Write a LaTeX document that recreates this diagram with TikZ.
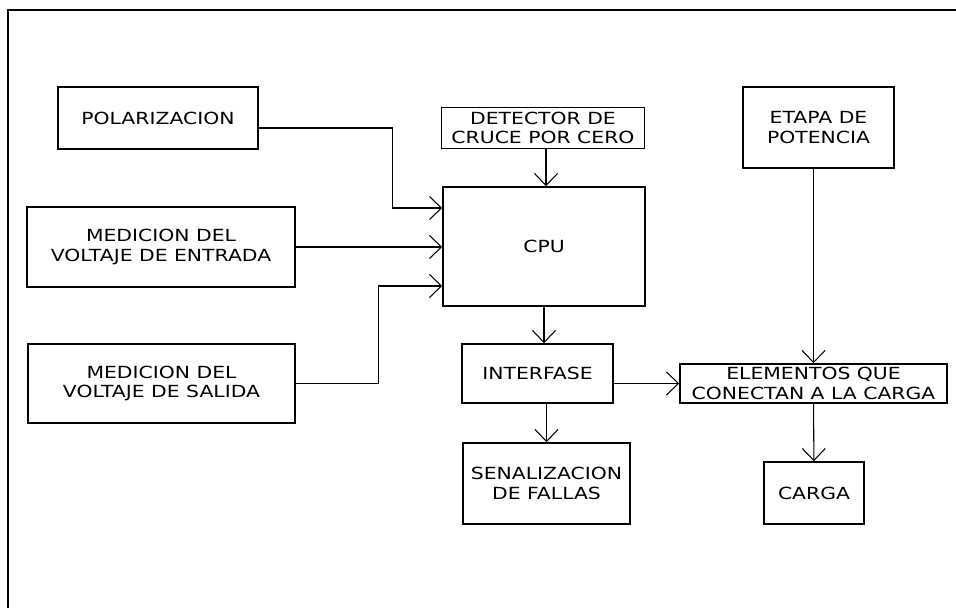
\documentclass[tikz,border=0pt]{standalone}
\usepackage{fontspec}
\setmainfont{DejaVu Sans}[FakeStretch=1.22]
\usepackage{tikz}
\usetikzlibrary{arrows.meta,positioning}

\begin{document}
\begin{tikzpicture}[
  x=0.02cm,y=-0.02cm,
  box/.style={draw,line width=0.9pt,align=center,inner sep=0.5pt,font=\fontsize{9.5}{11}\selectfont},
  arrow/.style={-{Straight Barb[length=2.4mm,width=4.6mm]},line width=0.6pt},
  frame/.style={line width=1.4pt}
]
\useasboundingbox (0,0) rectangle (956,608);
\draw[frame] (956,10) -- (8,10) -- (8,608);
% left column
\node[box,minimum width=4cm,minimum height=1.24cm] (pol) at (158,118) {POLARIZACION};
\node[box,minimum width=5.36cm,minimum height=1.6cm] (entrada) at (161,247) {MEDICION DEL\\VOLTAJE DE ENTRADA};
\node[box,minimum width=5.34cm,minimum height=1.58cm] (salida) at (161.5,383.5) {MEDICION DEL\\VOLTAJE DE SALIDA};
% middle column
\node[box,minimum width=4.06cm,minimum height=0.82cm] (detector) at (543,128) {DETECTOR DE\\CRUCE POR CERO};
\node[box,minimum width=4.04cm,minimum height=2.38cm] (cpu) at (544,246.5) {CPU};
\node[box,minimum width=3.02cm,minimum height=1.18cm] (interfase) at (537.5,373.5) {INTERFASE};
\node[box,minimum width=3.34cm,minimum height=1.62cm] (fallas) at (546.5,483.5) {SENALIZACION\\DE FALLAS};
% right column
\node[box,minimum width=3.02cm,minimum height=1.62cm] (etapa) at (818.5,127.5) {ETAPA DE\\POTENCIA};
\node[box,minimum width=5.34cm,minimum height=0.78cm] (elementos) at (813.5,383.5) {ELEMENTOS QUE\\CONECTAN A LA CARGA};
\node[box,minimum width=2cm,minimum height=1.24cm] (carga) at (814,493) {CARGA};
% connections
\draw[arrow] ([yshift=-2mm]pol.east) -- ++(134,0) |- ([yshift=7.7mm]cpu.west);
\draw[arrow] (entrada.east) -- (entrada.east -| cpu.west);
\draw[arrow] (salida.east) -- ++(83,0) |- ([yshift=-7.9mm]cpu.west);
\draw[arrow] ([xshift=0.06cm]detector.south) -- ([xshift=0.06cm]detector.south |- cpu.north);
\draw[arrow] (cpu.south) -- (cpu.south |- interfase.north);
\draw[arrow] (fallas.north |- interfase.south) -- (fallas.north);
\draw[arrow] (elementos.west -| interfase.east) -- (elementos.west);
\draw[arrow] (elementos.north |- etapa.south) -- (elementos.north);
\draw[arrow] (elementos) -- (carga);
\end{tikzpicture}
\end{document}
